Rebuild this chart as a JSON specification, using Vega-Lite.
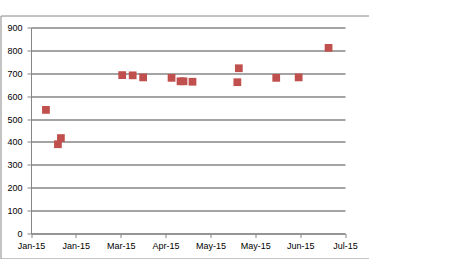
{
  "$schema": "https://vega.github.io/schema/vega-lite/v6.json",
  "width": 368.5,
  "height": 243,
  "autosize": "none",
  "padding": {"left": 0.5, "top": 15.5, "right": 0, "bottom": 0},
  "background": "white",
  "config": {
    "view": {"stroke": "#888888", "strokeWidth": 1},
    "axis": {
      "domainColor": "#868686",
      "tickColor": "#868686",
      "gridColor": "#868686",
      "gridOpacity": 1,
      "labelColor": "#000000",
      "labelFont": "Liberation Sans",
      "labelFontSize": 9,
      "tickSize": 4,
      "title": null,
      "labelOverlap": false
    }
  },
  "data": {
    "values": [
      {"date": "2015-01-11", "value": 540},
      {"date": "2015-01-19", "value": 390},
      {"date": "2015-01-21", "value": 417},
      {"date": "2015-03-03", "value": 692},
      {"date": "2015-03-10", "value": 691},
      {"date": "2015-03-17", "value": 682},
      {"date": "2015-04-05", "value": 680},
      {"date": "2015-04-11", "value": 665},
      {"date": "2015-04-13", "value": 665},
      {"date": "2015-04-19", "value": 663},
      {"date": "2015-05-19", "value": 661},
      {"date": "2015-05-20", "value": 722},
      {"date": "2015-06-14", "value": 680},
      {"date": "2015-06-29", "value": 682},
      {"date": "2015-07-19", "value": 811}
    ]
  },
  "mark": {"type": "square", "size": 60, "color": "#C0504D", "opacity": 1},
  "encoding": {
    "x": {
      "field": "date",
      "type": "temporal",
      "scale": {
        "type": "utc",
        "domain": [
          {"year": 2015, "month": 1, "date": 1, "utc": true},
          {"year": 2015, "month": 7, "date": 30, "utc": true}
        ],
        "range": [30.5, 344.5]
      },
      "axis": {
        "offset": -25,
        "grid": false,
        "format": "%b-%y",
        "labelPadding": 4,
        "labelFlush": false,
        "values": [
          {"year": 2015, "month": 1, "date": 1, "utc": true},
          {"year": 2015, "month": 1, "date": 31, "utc": true},
          {"year": 2015, "month": 3, "date": 2, "utc": true},
          {"year": 2015, "month": 4, "date": 1, "utc": true},
          {"year": 2015, "month": 5, "date": 1, "utc": true},
          {"year": 2015, "month": 5, "date": 31, "utc": true},
          {"year": 2015, "month": 6, "date": 30, "utc": true},
          {"year": 2015, "month": 7, "date": 30, "utc": true}
        ]
      }
    },
    "y": {
      "field": "value",
      "type": "quantitative",
      "scale": {"domain": [0, 900], "range": [218, 12], "nice": false, "zero": true},
      "axis": {
        "offset": -30.5,
        "grid": true,
        "gridWidth": 1.5,
        "values": [0, 100, 200, 300, 400, 500, 600, 700, 800, 900],
        "labelPadding": 5,
        "labelFlush": false
      }
    }
  }
}
